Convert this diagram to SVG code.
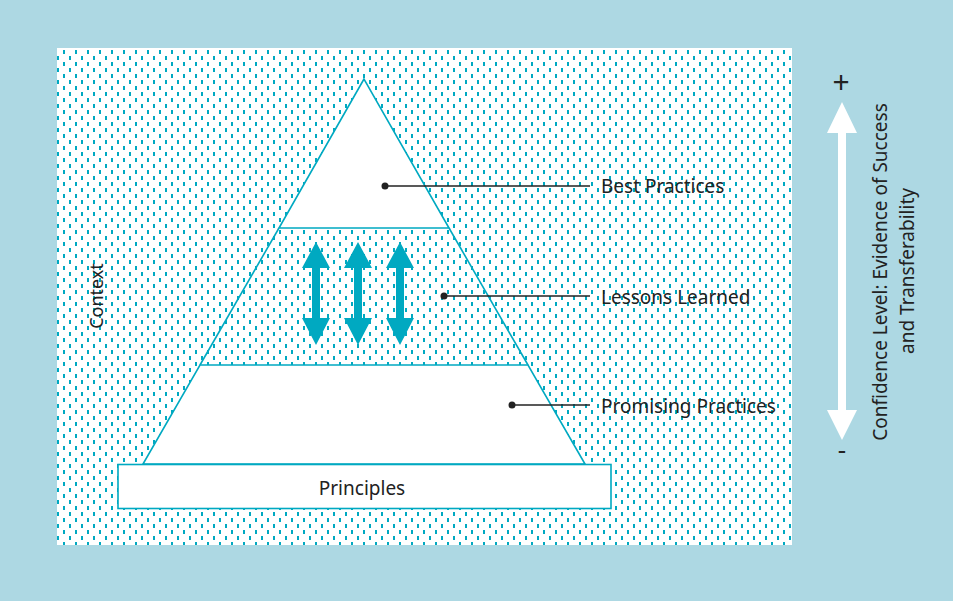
<svg xmlns="http://www.w3.org/2000/svg" width="953" height="601" viewBox="0 0 953 601">
  <defs>
    <pattern id="dots" patternUnits="userSpaceOnUse" x="57" y="48" width="12" height="12">
      <rect x="6" y="2" width="2" height="4" fill="#00a9c1"/>
      <rect x="0" y="8" width="2" height="4" fill="#00a9c1"/>
    </pattern>
    <style>
      .lbl { font-family: "Noto Sans", "Open Sans", sans-serif; font-size: 19px; fill: #222222; }
      .edge { fill: none; stroke: #00a9c1; stroke-width: 1.6; }
      .white { fill: #ffffff; stroke: #00a9c1; stroke-width: 1.6; }
      .lead { stroke: #222222; stroke-width: 1.5; fill: none; }
      .dot { fill: #222222; }
      .teal { fill: #00a9c1; }
    </style>
  </defs>
  <rect x="0" y="0" width="953" height="601" fill="#add8e3"/>
  <g id="context-area">
    <rect x="57" y="48" width="735" height="497" fill="#ffffff"/>
    <rect x="57" y="48" width="735" height="497" fill="url(#dots)"/>
    <text class="lbl" transform="translate(103,296) rotate(-90)" text-anchor="middle" style="font-size:18px">Context</text>
  </g>
  <g id="best-practices">
    <polygon class="white" points="364,79 279,228 449,228"/>
  </g>
  <g id="lessons-learned">
    <polyline class="edge" points="279,228 200,365"/>
    <polyline class="edge" points="449,228 528,365"/>
  </g>
  <g id="promising-practices">
    <polygon class="white" points="200,365 528,365 585,464 143,464"/>
  </g>
  <g id="principles">
    <rect class="white" x="118" y="464.5" width="493" height="44"/>
    <text class="lbl" x="362" y="495" text-anchor="middle">Principles</text>
  </g>
  <g id="exchange-arrows">
    <polygon class="teal" points="316,242 330,268 320,268 320,318 330,318 316,345 302,318 312,318 312,268 302,268"/>
    <polygon class="teal" points="358,242 372,268 362,268 362,318 372,318 358,345 344,318 354,318 354,268 344,268"/>
    <polygon class="teal" points="400,242 414,268 404,268 404,318 414,318 400,345 386,318 396,318 396,268 386,268"/>
  </g>
  <g id="connectors">
    <circle class="dot" cx="385" cy="186" r="3.5"/>
    <line class="lead" x1="385" y1="186" x2="590" y2="186"/>
    <circle class="dot" cx="444" cy="296" r="3.5"/>
    <line class="lead" x1="444" y1="296" x2="590" y2="296"/>
    <circle class="dot" cx="512" cy="405" r="3.5"/>
    <line class="lead" x1="512" y1="405" x2="590" y2="405"/>
  </g>
  <g id="labels">
    <text class="lbl" x="601" y="193">Best Practices</text>
    <text class="lbl" x="601" y="304">Lessons Learned</text>
    <text class="lbl" x="601" y="413">Promising Practices</text>
  </g>
  <g id="confidence-scale">
    <polygon fill="#ffffff" points="842,102 857,133 846,133 846,410 857,410 842,440 827,410 838,410 838,133 827,133"/>
    <text class="lbl" x="841" y="93" text-anchor="middle" style="font-size:30px">+</text>
    <text class="lbl" x="842" y="459" text-anchor="middle" style="font-size:26px">-</text>
    <text class="lbl" transform="translate(887,272) rotate(-90)" text-anchor="middle">Confidence Level: Evidence of Success</text>
    <text class="lbl" transform="translate(914,271) rotate(-90)" text-anchor="middle">and Transferability</text>
  </g>
</svg>
